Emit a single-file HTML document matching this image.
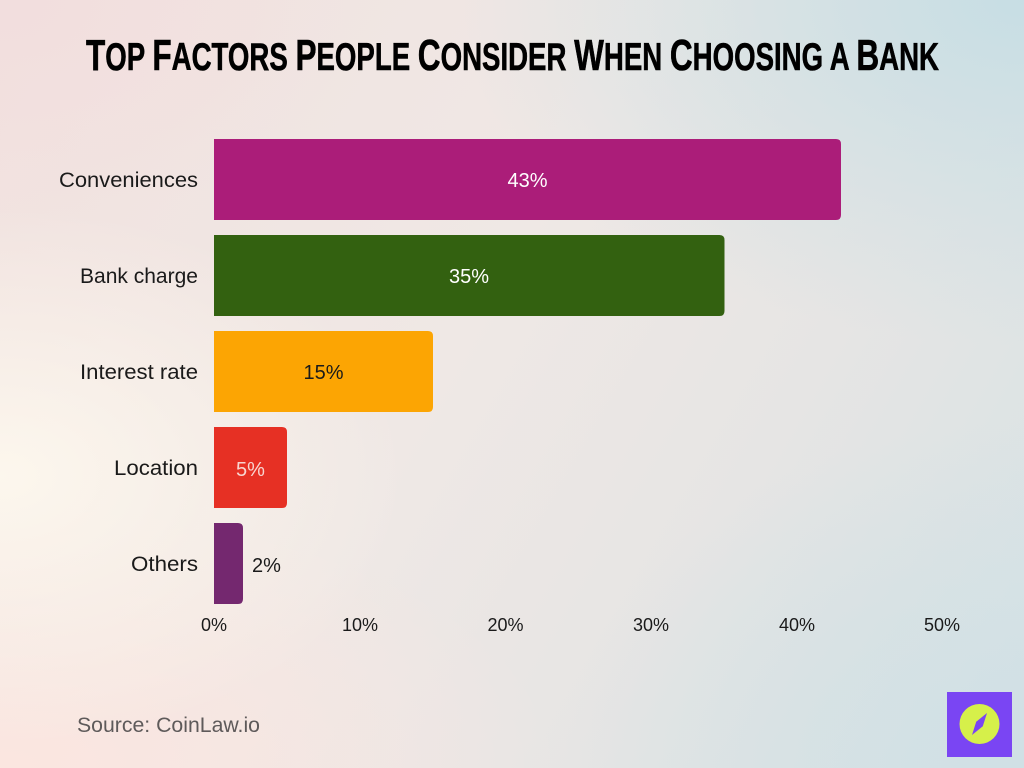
<!DOCTYPE html>
<html>
<head>
<meta charset="utf-8">
<style>
  html, body { margin: 0; padding: 0; }
  body { width: 1024px; height: 768px; overflow: hidden; }
  .bg {
    position: absolute; left: 0; top: 0; width: 1024px; height: 768px;
    background:
      radial-gradient(ellipse 40% 35% at 0% 62%, rgba(253,248,238,0.95), rgba(253,248,238,0) 100%),
      radial-gradient(ellipse 55% 35% at 0% 100%, rgba(252,230,224,0.95), rgba(252,230,224,0) 100%),
      radial-gradient(ellipse 55% 45% at 100% 0%, rgba(199,222,228,1), rgba(199,222,228,0) 100%),
      radial-gradient(ellipse 45% 45% at 100% 100%, rgba(208,224,229,1), rgba(208,224,229,0) 100%),
      radial-gradient(ellipse 35% 30% at 0% 0%, rgba(242,222,222,1), rgba(242,222,222,0) 100%),
      linear-gradient(120deg, #f2e2df 0%, #efe8e5 45%, #e6e5e4 70%, #d6e2e5 100%);
  }
  svg { position: absolute; left: 0; top: 0; }
  .lbl { font-family: "Liberation Sans", sans-serif; font-size: 21px; fill: #1a1a1a; }
  .val { font-family: "Liberation Sans", sans-serif; font-size: 20px; }
  .tick { font-family: "Liberation Sans", sans-serif; font-size: 18px; fill: #1a1a1a; }
  .title { font-family: "Liberation Sans Narrow", "Liberation Sans", sans-serif; font-weight: bold; fill: #000; stroke: #000; stroke-width: 0.6; }
</style>
</head>
<body>
<div class="bg"></div>
<svg width="1024" height="768" viewBox="0 0 1024 768" xmlns="http://www.w3.org/2000/svg">
  <!-- Title -->
  <text class="title" x="86" y="70" textLength="853" lengthAdjust="spacingAndGlyphs"><tspan font-size="44">T</tspan><tspan font-size="38.5">OP </tspan><tspan font-size="44">F</tspan><tspan font-size="38.5">ACTORS </tspan><tspan font-size="44">P</tspan><tspan font-size="38.5">EOPLE </tspan><tspan font-size="44">C</tspan><tspan font-size="38.5">ONSIDER </tspan><tspan font-size="44">W</tspan><tspan font-size="38.5">HEN </tspan><tspan font-size="44">C</tspan><tspan font-size="38.5">HOOSING A </tspan><tspan font-size="44">B</tspan><tspan font-size="38.5">ANK</tspan></text>

  <!-- Bars -->
  <path d="M214,139 H836 Q841,139 841,144 V215 Q841,220 836,220 H214 Z" fill="#ab1d79"/>
  <path d="M214,235 H719.5 Q724.5,235 724.5,240 V311 Q724.5,316 719.5,316 H214 Z" fill="#336110"/>
  <path d="M214,331 H428 Q433,331 433,336 V407 Q433,412 428,412 H214 Z" fill="#fca503"/>
  <path d="M214,427 H282 Q287,427 287,432 V503 Q287,508 282,508 H214 Z" fill="#e63024"/>
  <path d="M214,523 H238 Q243,523 243,528 V599 Q243,604 238,604 H214 Z" fill="#74286f"/>

  <!-- Category labels -->
  <text class="lbl" x="198" y="187" text-anchor="end" textLength="139" lengthAdjust="spacingAndGlyphs">Conveniences</text>
  <text class="lbl" x="198" y="283" text-anchor="end" textLength="118" lengthAdjust="spacingAndGlyphs">Bank charge</text>
  <text class="lbl" x="198" y="379" text-anchor="end" textLength="118" lengthAdjust="spacingAndGlyphs">Interest rate</text>
  <text class="lbl" x="198" y="475" text-anchor="end" textLength="84" lengthAdjust="spacingAndGlyphs">Location</text>
  <text class="lbl" x="198" y="571" text-anchor="end" textLength="67" lengthAdjust="spacingAndGlyphs">Others</text>

  <!-- Value labels -->
  <text class="val" x="527.5" y="187" text-anchor="middle" fill="#ffffff">43%</text>
  <text class="val" x="469" y="283" text-anchor="middle" fill="#ffffff">35%</text>
  <text class="val" x="323.5" y="379" text-anchor="middle" fill="#1a1a1a">15%</text>
  <text class="val" x="250.5" y="476" text-anchor="middle" fill="#f8d5d0">5%</text>
  <text class="val" x="252" y="572" text-anchor="start" fill="#1a1a1a">2%</text>

  <!-- X ticks -->
  <text class="tick" x="214" y="631" text-anchor="middle">0%</text>
  <text class="tick" x="360" y="631" text-anchor="middle">10%</text>
  <text class="tick" x="505.5" y="631" text-anchor="middle">20%</text>
  <text class="tick" x="651" y="631" text-anchor="middle">30%</text>
  <text class="tick" x="797" y="631" text-anchor="middle">40%</text>
  <text class="tick" x="942" y="631" text-anchor="middle">50%</text>

  <!-- Source -->
  <text x="77" y="732" font-family="Liberation Sans, sans-serif" font-size="21" fill="#5e5a5a" textLength="183" lengthAdjust="spacingAndGlyphs">Source: CoinLaw.io</text>

  <!-- Logo -->
  <rect x="947" y="692" width="65" height="65" fill="#7a45f3"/>
  <circle cx="979.5" cy="724" r="20" fill="#d6f04a"/>
  <polygon points="987,713 982.8,726.3 972,735 976.2,721.7" fill="#7a45f3"/>
</svg>
</body>
</html>
